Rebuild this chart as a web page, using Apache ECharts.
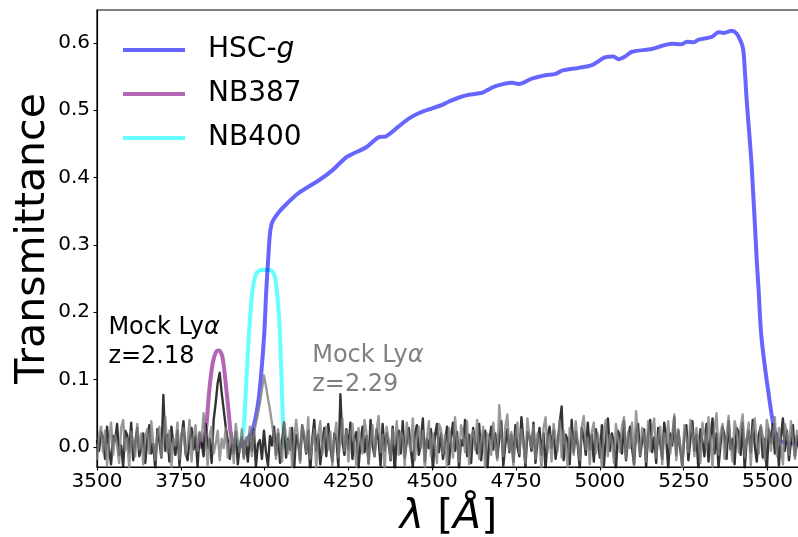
<!DOCTYPE html>
<html>
<head>
<meta charset="utf-8">
<script src="https://cdn.jsdelivr.net/npm/echarts@6/dist/echarts.min.js"></script>
<style>
  html, body { margin: 0; padding: 0; background: #fff; }
  #chart { width: 798px; height: 537px; }
</style>
</head>
<body>
<div id="chart"></div>
<script>
// Filter transmission curves (wavelength in Angstrom, transmittance)
const hscLambda = [3925, 3934, 3950, 3964, 3979, 3989, 3999, 4005, 4011, 4016, 4023, 4043, 4068, 4101,
  4162, 4200, 4243, 4262, 4303, 4341, 4360, 4400, 4431, 4461, 4500, 4530, 4550, 4580, 4609, 4649,
  4664, 4689, 4738, 4758, 4797, 4838, 4868, 4887, 4937, 4976, 5017, 5040, 5056, 5075, 5096, 5155,
  5215, 5244, 5260, 5280, 5295, 5334, 5354, 5370, 5393, 5408, 5418, 5425, 5429, 5438, 5453, 5468,
  5473, 5482, 5503, 5523, 5540, 5600];
const hscTrans = [0.000, 0.003, 0.012, 0.025, 0.060, 0.104, 0.169, 0.233, 0.282, 0.317, 0.334, 0.349, 0.362, 0.377,
  0.396, 0.410, 0.430, 0.435, 0.445, 0.460, 0.461, 0.476, 0.488, 0.496, 0.503, 0.508, 0.513, 0.519, 0.523, 0.526,
  0.530, 0.536, 0.541, 0.539, 0.547, 0.552, 0.554, 0.559, 0.563, 0.567, 0.579, 0.580, 0.576, 0.580, 0.587, 0.591,
  0.599, 0.598, 0.602, 0.601, 0.605, 0.609, 0.616, 0.615, 0.618, 0.614, 0.605, 0.596, 0.585, 0.515, 0.416, 0.277,
  0.238, 0.163, 0.080, 0.020, 0.008, 0.004];

const nb387Lambda = [3810, 3820, 3825, 3835, 3845, 3855, 3864, 3874, 3884, 3894, 3899, 3908];
const nb387Trans  = [0.000, 0.015, 0.025, 0.084, 0.124, 0.141, 0.143, 0.134, 0.094, 0.045, 0.020, 0.000];

const nb400Lambda = [3925, 3937, 3944, 3954, 3964, 3974, 3984, 4000, 4020, 4028, 4033, 4043, 4050, 4055, 4060];
const nb400Trans  = [0.000, 0.025, 0.084, 0.173, 0.233, 0.256, 0.262, 0.263, 0.262, 0.256, 0.248, 0.193, 0.109, 0.035, 0.000];

// Mock spectra on a regular grid: start wavelength, step, flux in units of 1e-3
const specStart = 3500;
const specStep = 6;
const fluxZ218 = [
  10, -6, 22, 14, -18, 30, -4, -26, 16, 8, 34, -12, 2, -30, 24, 18, -8, 36, -20, 6, 28, -14, -2, 20, -24,
  12, 32, -10, 4, -34, 26, 8, -16, 77, -6, 18, -22, 30, 2, -12, 24, -28, 14, 38, -8, -20, 10, 28, -4, 16,
  -30, 20, 6, -14, 34, -2, 12, -24, 40, 65, 95, 110, 80, 55, 30, 10, -18, 4, -10, 22, -26, 2, 14, -16, 8,
  -22, 18, -6, 26, -30, 4, 10, -18, 24, -8, -28, 16, 2, 30, -12, 20, -24, 8, 36, -16, 12, -4, 28, -34, 18,
  6, -20, 32, 14, -10, 24, -38, 10, 40, -6, 18, -26, 4, 28, -14, 34, 0, -22, 20, 12, -30, 78, 8, -12, 26,
  -4, 36, -18, 14, 22, -32, 6, 30, -8, 16, -24, 40, 2, -14, 26, 10, -28, 34, -6, 20, 4, -20, 30, -40, 14,
  24, -10, 38, -16, 8, 28, -4, -30, 18, 32, -12, 6, 42, -22, 12, -2, 26, -36, 16, 34, -8, 20, -18, 4, 30,
  -26, 14, 36, -6, 22, -32, 10, 2, 40, -14, 18, -24, 28, 6, -10, 34, -20, 16, 24, -38, 8, 30, -4, 20, -16,
  12, 38, -28, 4, 26, -8, 18, -22, 32, 0, -14, 44, 10, -30, 22, 16, -6, 36, -24, 8, 28, -12, 20, -34, 14,
  30, -2, 24, -18, 6, 34, 60, -20, 18, 10, -26, 40, -8, 22, 2, -32, 28, 14, -12, 36, -4, 18, -22, 26, 8,
  -16, 32, -28, 12, 42, -6, 20, 4, -36, 24, 16, -10, 38, -20, 10, 30, -2, -26, 22, 34, -14, 8, 26, -30, 18,
  40, -8, 14, -24, 28, 6, -18, 36, 12, -32, 20, 2, 44, -12, 24, -4, -28, 16, 32, -20, 10, 38, -6, 18, -36,
  26, 8, -14, 34, -22, 14, 42, -10, 20, -30, 4, 30, 16, -18, 38, -4, 12, -26, 28, 22, -12, 36, -34, 10, 24,
  -8, 40, 2, -22, 18, 30, -16, 12, -38, 26, 6, 34, -10, 20, -28, 14, 42, -6, 24, -20, 8, 32, -14, 16, -4];
const fluxZ229 = [
  -20, 16, 30, -8, 24, -28, 6, 36, -12, 18, 2, -24, 28, 40, -6, 12, -32, 22, 8, -14, 34, -4, 20, -26, 14,
  26, -10, 38, 4, -20, 18, 30, -16, 10, 44, -8, 24, -30, 12, 2, 36, -18, 20, 28, -12, 6, 40, -22, 16, 32,
  -6, 22, 8, 50, 14, -28, 18, 30, -10, 4, 24, -20, 12, -2, 28, -16, 6, 20, -24, 34, 10, -8, 26, -18, 14,
  2, 30, -14, 20, 35, 50, 65, 85, 106, 90, 72, 55, 35, 12, -18, 26, 4, -22, 36, 16, -10, 28, -30, 8, 40,
  12, -24, 32, 20, -8, 44, -18, 6, 26, -34, 18, 38, -12, 10, 30, -4, 22, -28, 14, 36, -16, 8, 42, -6, 24,
  -22, 16, 34, 2, -30, 28, 12, -10, 40, 20, -26, 6, 32, -14, 24, 46, -8, 18, -36, 30, 10, -18, 26, 4, 38,
  -12, 22, 14, -28, 36, 8, -6, 42, -20, 16, 30, -2, 24, -34, 12, 38, -14, 20, 4, -24, 34, 26, -10, 18, -30,
  28, 10, -16, 44, 6, -22, 32, 18, -8, 38, -26, 14, 24, -4, 40, -18, 8, 30, -32, 20, 12, -12, 36, 2, -20,
  62, 16, -14, 30, 48, -6, 22, -28, 10, 36, -10, 26, 4, -24, 42, 14, -2, 32, -18, 20, 8, -36, 28, 44, -8,
  18, -22, 34, 12, -6, 40, -16, 24, 2, -30, 28, 16, -12, 38, 6, -20, 30, 46, -4, 14, -26, 22, 36, -10, 20,
  4, -32, 26, 40, -14, 18, 8, -24, 34, 12, -8, 30, 44, -18, 22, -2, 36, -28, 53, 10, -12, 28, 16, -22, 38,
  -6, 24, 42, -16, 12, 30, -26, 20, 6, 38, -10, 16, 48, -20, 26, 2, -34, 32, 14, -8, 40, 22, -14, 28, 8,
  -24, 36, 18, -4, 44, 10, -30, 26, 50, -12, 20, 34, -18, 14, 46, 2, -22, 38, 24, -8, 30, 48, -16, 12, 36,
  -28, 22, 42, 6, -10, 32, 16, -20, 40, 26, -6, 18, 44, -14, 28, 4, -26, 34, 20, -12, 38, 10, -18, 24, 14];

// Tick positions
const xTicks = [3500, 3750, 4000, 4250, 4500, 4750, 5000, 5250, 5500];
const yTicks = [0.0, 0.1, 0.2, 0.3, 0.4, 0.5, 0.6];

// Text annotations: [wavelength, transmittance] anchor and text
const annotZ218 = { at: [3534, 0.156], z: '2.18', color: '#000000' };
const annotZ229 = { at: [4142, 0.114], z: '2.29', color: '#808080' };

const FONT = 'DejaVu Sans';
const pairs = (xs, ys) => xs.map((x, i) => [x, ys[i]]);
const spectrum = flux => flux.map((f, i) => [specStart + i * specStep, f / 1000]);

const filterSeries = (name, xs, ys, color) => ({
  name, type: 'line', data: pairs(xs, ys), showSymbol: false, symbol: 'none',
  smooth: 0.3, clip: true,
  lineStyle: { color, width: 4, join: 'round', cap: 'round' },
  itemStyle: { color }
});
const specSeries = (name, flux, color) => ({
  name, type: 'line', data: spectrum(flux), showSymbol: false, symbol: 'none',
  clip: true, silent: true,
  lineStyle: { color, width: 2.4, join: 'round' },
  itemStyle: { color }
});
const annotSeries = a => ({
  type: 'scatter', data: [a.at], symbolSize: 0, silent: true, z: 10,
  itemStyle: { opacity: 1, color: a.color },
  label: {
    show: true, position: 'right', distance: 0, opacity: 1,
    formatter: 'Mock Ly{g|α}\nz=' + a.z,
    fontFamily: FONT, fontSize: 24, lineHeight: 29, color: a.color, align: 'left',
    rich: { g: { fontFamily: FONT, fontSize: 24, lineHeight: 29, fontStyle: 'italic', color: a.color } }
  }
});

const chart = echarts.init(document.getElementById('chart'), null, { renderer: 'canvas' });
chart.setOption({
  animation: false,
  backgroundColor: '#ffffff',
  textStyle: { fontFamily: FONT },
  grid: { left: 97, right: -2, top: 10, bottom: 70, containLabel: false, outerBoundsMode: 'none',
    show: true, borderColor: '#000', borderWidth: 1.2 },
  legend: {
    orient: 'vertical', left: 123, top: 36, padding: 0, itemGap: 16,
    itemWidth: 62, itemHeight: 4, icon: 'rect',
    data: ['HSC-g', 'NB387', 'NB400'],
    formatter: n => n === 'HSC-g' ? 'HSC-{i|g}' : n,
    textStyle: {
      fontFamily: FONT, fontSize: 28, color: '#000', padding: [0, 0, 0, 18],
      rich: { i: { fontFamily: FONT, fontSize: 28, fontStyle: 'italic', color: '#000' } }
    }
  },
  xAxis: {
    type: 'value', min: 3500, max: 5597,
    axisLine: { show: true, onZero: false, lineStyle: { color: '#000', width: 1.2 } },
    axisTick: { show: true, length: 3.5, lineStyle: { color: '#000', width: 1.1 }, customValues: xTicks },
    axisLabel: { fontFamily: FONT, fontSize: 20, color: '#000', margin: 5, customValues: xTicks,
      formatter: v => String(v) },
    splitLine: { show: false },
    name: '{i|λ} [{i|Å}]', nameLocation: 'middle', nameGap: 30, nameMoveOverlap: false,
    nameTextStyle: {
      fontFamily: FONT, fontSize: 41, color: '#000',
      rich: { i: { fontFamily: FONT, fontSize: 41, fontStyle: 'italic', color: '#000' } }
    }
  },
  yAxis: {
    type: 'value', min: -0.030, max: 0.649,
    axisLine: { show: true, onZero: false, lineStyle: { color: '#000', width: 1.2 } },
    axisTick: { show: true, length: 3.5, lineStyle: { color: '#000', width: 1.1 }, customValues: yTicks },
    axisLabel: { fontFamily: FONT, fontSize: 20, color: '#000', margin: 7, customValues: yTicks,
      formatter: v => Number(v).toFixed(1) },
    splitLine: { show: false },
    name: 'Transmittance', nameLocation: 'middle', nameRotate: 90, nameGap: 43, nameMoveOverlap: false,
    nameTextStyle: { fontFamily: FONT, fontSize: 41, color: '#000' }
  },
  series: [
    filterSeries('NB400', nb400Lambda, nb400Trans, 'rgba(0,255,255,0.6)'),
    filterSeries('NB387', nb387Lambda, nb387Trans, 'rgba(128,0,128,0.6)'),
    filterSeries('HSC-g', hscLambda, hscTrans, 'rgba(0,0,255,0.6)'),
    specSeries('z=2.18', fluxZ218, 'rgba(0,0,0,0.8)'),
    specSeries('z=2.29', fluxZ229, 'rgba(128,128,128,0.8)'),
    annotSeries(annotZ218),
    annotSeries(annotZ229)
  ]
});
</script>
</body>
</html>
